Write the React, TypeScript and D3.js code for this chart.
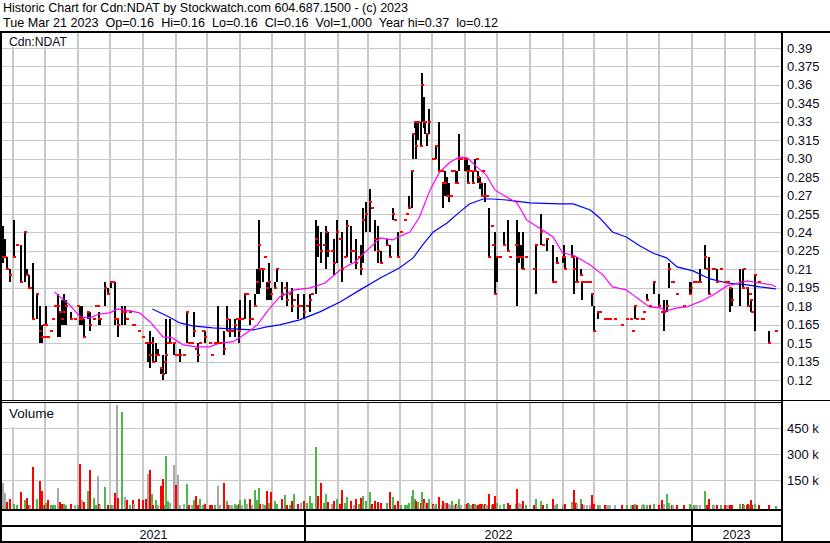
import React from 'react';
import * as d3 from 'd3';

const START = new Date(2021, 2, 22);
const TITLE = 'Historic Chart for Cdn:NDAT by Stockwatch.com 604.687.1500 - (c) 2023';
const SUBTITLE = 'Tue Mar 21 2023  Op=0.16  Hi=0.16  Lo=0.16  Cl=0.16  Vol=1,000  Year hi=0.37  lo=0.12';
const SYMBOL = 'Cdn:NDAT';
const VOLUME_TITLE = 'Volume';

const PRICE_TICKS = [0.39, 0.375, 0.36, 0.345, 0.33, 0.315, 0.30, 0.285, 0.27, 0.255, 0.24, 0.225, 0.21, 0.195, 0.18, 0.165, 0.15, 0.135, 0.12];
const PRICE_LABELS = ['0.39', '0.375', '0.36', '0.345', '0.33', '0.315', '0.30', '0.285', '0.27', '0.255', '0.24', '0.225', '0.21', '0.195', '0.18', '0.165', '0.15', '0.135', '0.12'];
const VOL_TICKS = [450000, 300000, 150000];
const VOL_LABELS = ['450 k', '300 k', '150 k'];
const YEARS = [2021, 2022, 2023];

// day offsets from START
const DAY = [
  0, 2, 4, 7, 11, 13, 17, 21, 23, 25,
  26, 28, 32, 35, 37, 39, 40, 41, 43, 45,
  47, 49, 52, 54, 56, 58, 60, 64, 68, 71,
  73, 75, 77, 80, 82, 86, 88, 90, 91, 92,
  96, 99, 102, 104, 106, 108, 109, 112, 115, 117,
  120, 123, 124, 128, 132, 135, 137, 139, 141, 142,
  144, 146, 149, 151, 153, 154, 156, 158, 161, 163,
  165, 167, 171, 174, 176, 178, 180, 182, 184, 186,
  189, 191, 195, 197, 200, 203, 205, 209, 211, 212,
  214, 216, 219, 221, 223, 224, 226, 228, 230, 233,
  235, 238, 240, 242, 243, 245, 247, 249, 251, 253, 257, 259,
  263, 266, 268, 271, 273, 275, 278, 281, 284, 287, 290, 292,
  295, 297, 300, 303, 305, 307, 310, 312, 315, 318, 320, 323,
  325, 328, 331, 333, 336, 338, 340, 343, 346, 348, 351, 354,
  357, 362, 365, 368, 370, 373, 376, 379, 381, 383, 386, 387,
  389, 390, 392, 394, 395, 397, 398, 400, 402, 406, 407, 409,
  411, 414, 415, 417, 419, 421, 423, 424, 426, 427, 428, 430,
  432, 436, 438, 439, 440, 442, 443, 445, 447, 448, 450, 452,
  453, 455, 456, 457, 459, 461, 462, 464, 466, 469, 473, 476,
  478, 484, 485, 487, 489, 490, 491, 493, 501, 503, 508, 509,
  513, 519, 521, 523, 528, 529, 530, 537, 538, 539, 541, 542,
  545, 546, 548, 551, 554, 556, 558, 561, 563, 568, 570, 572,
  573, 577, 584, 589, 592, 594, 596, 598, 603, 604, 605, 608,
  610, 614, 619, 622, 624, 626, 628, 631, 632, 636, 642, 648,
  649, 652, 654, 655, 658, 662, 664, 666, 670, 671, 674, 677,
  681, 683, 684, 686, 688, 695, 698, 699, 702, 703, 705, 706, 707, 709, 713, 723, 729,
];
const HIGH = [
  .245, .235, .22, .21, .25, .23, .23, .24, .21, .205,
  .195, .215, .19, .18, .165, .165, .155, .18, .155, .16,
  .17, .18, .19, .175, .185, .19, .185, .175, .17, .18,
  .18, .18, .17, .175, .175, .17, .18, .18, .175, .17,
  .2, .195, .2, .2, .2, .17, .17, .18, .18, .17,
  .175, .165, .165, .16, .155, .15, .15, .16, .15, .155,
  .15, .145, .13, .14, .135, .17, .15, .17, .15, .14,
  .14, .145, .14, .175, .15, .15, .175, .145, .15, .15,
  .16, .16, .15, .14, .15, .18, .15, .16, .18, .16,
  .17, .16, .17, .17, .17, .185, .17, .19, .19, .185,
  .17, .19, .21, .25, .21, .21, .22, .2, .215, .195, .2, .21,
  .2, .195, .2, .19, .195, .185, .19, .18, .19, .18, .19, .19,
  .25, .245, .24, .23, .245, .24, .225, .235, .25, .235, .24, .22,
  .25, .245, .225, .235, .22, .23, .26, .265, .275, .26, .25, .245,
  .225, .235, .23, .26, .25, .24, .24, .25, .255, .27, .29, .32,
  .33, .33, .33, .33, .37, .35, .33, .32, .34, .3, .3, .31,
  .33, .29, .28, .29, .285, .28, .27, .29, .29, .29, .29, .32,
  .3, .3, .3, .29, .295, .29, .29, .3, .3, .29, .285, .28,
  .29, .28, .27, .27, .26, .245, .23, .24, .22, .22, .24, .25,
  .22, .23, .25, .24, .23, .23, .24, .22, .21, .23, .255, .23,
  .235, .23, .2, .22, .22, .23, .22, .23, .22, .22, .2, .22,
  .21, .2, .2, .2, .2, .19, .18, .175, .175, .17, .17, .17,
  .17, .17, .165, .17, .17, .16, .18, .17, .17, .17, .175, .19,
  .18, .2, .19, .175, .185, .185, .215, .2, .2, .19, .18, .2,
  .2, .2, .2, .2, .21, .23, .21, .22, .21, .21, .21, .21,
  .2, .2, .2, .195, .195, .21, .21, .21, .195, .195, .19, .185, .175, .205, .2, .16, .16,
];
const LOW = [
  .215, .22, .21, .20, .22, .23, .20, .20, .205, .195,
  .195, .17, .17, .15, .15, .165, .155, .165, .155, .16,
  .17, .18, .155, .155, .165, .165, .165, .17, .17, .18,
  .165, .165, .155, .17, .16, .17, .18, .18, .165, .165,
  .18, .19, .195, .2, .165, .17, .155, .165, .165, .17,
  .175, .165, .165, .16, .155, .15, .135, .13, .15, .135,
  .135, .14, .125, .12, .135, .125, .15, .15, .14, .14,
  .14, .135, .14, .15, .15, .15, .155, .145, .135, .15,
  .16, .15, .15, .14, .15, .15, .15, .14, .16, .16,
  .155, .16, .155, .17, .15, .16, .17, .17, .19, .165,
  .17, .18, .19, .19, .195, .2, .22, .185, .185, .185, .195, .2,
  .185, .195, .18, .19, .175, .185, .17, .18, .17, .18, .175, .19,
  .19, .22, .215, .23, .21, .22, .225, .205, .215, .235, .2, .22,
  .22, .215, .225, .21, .22, .205, .215, .24, .24, .26, .225, .215,
  .215, .23, .22, .25, .25, .22, .24, .25, .255, .26, .26, .3,
  .325, .3, .315, .31, .33, .325, .32, .31, .32, .3, .3, .3,
  .29, .29, .26, .27, .27, .265, .27, .29, .29, .28, .28, .29,
  .3, .29, .29, .28, .29, .29, .28, .29, .3, .28, .275, .27,
  .29, .265, .27, .27, .22, .245, .23, .19, .2, .22, .23, .225,
  .22, .23, .18, .215, .22, .21, .21, .22, .21, .19, .23, .23,
  .225, .2, .2, .215, .215, .22, .21, .22, .22, .19, .2, .2,
  .205, .185, .2, .2, .2, .18, .16, .17, .175, .17, .17, .17,
  .17, .17, .165, .17, .17, .16, .17, .17, .17, .17, .175, .185,
  .18, .19, .18, .175, .16, .175, .195, .2, .2, .19, .18, .19,
  .19, .2, .2, .2, .2, .21, .21, .19, .21, .21, .2, .21,
  .2, .2, .2, .175, .18, .18, .195, .21, .195, .18, .19, .175, .175, .16, .2, .15, .16,
];
const CLOSE = [
  .22, .22, .21, .205, .22, .23, .20, .24, .205, .195,
  .195, .17, .19, .16, .155, .165, .155, .165, .155, .16,
  .17, .18, .18, .175, .17, .175, .18, .17, .17, .18,
  .17, .17, .155, .175, .165, .17, .18, .18, .17, .17,
  .195, .19, .2, .2, .17, .17, .165, .175, .175, .17,
  .175, .165, .165, .16, .155, .15, .15, .14, .15, .135,
  .14, .14, .13, .125, .135, .14, .15, .15, .15, .14,
  .14, .14, .14, .175, .15, .15, .16, .145, .14, .15,
  .16, .155, .15, .14, .15, .15, .15, .145, .17, .16,
  .16, .16, .165, .17, .16, .17, .17, .19, .19, .17,
  .17, .18, .2, .23, .21, .21, .22, .195, .2, .19, .195, .21,
  .19, .195, .185, .19, .18, .185, .18, .18, .175, .18, .185, .19,
  .235, .23, .225, .23, .24, .225, .225, .215, .24, .235, .21, .22,
  .245, .225, .225, .215, .22, .21, .25, .255, .265, .26, .235, .225,
  .215, .23, .22, .255, .25, .22, .24, .25, .255, .26, .29, .32,
  .33, .31, .33, .31, .36, .33, .33, .32, .33, .3, .3, .31,
  .29, .29, .28, .28, .27, .27, .27, .29, .29, .28, .28, .3,
  .3, .3, .29, .28, .29, .29, .28, .29, .3, .285, .28, .27,
  .29, .27, .27, .27, .22, .245, .23, .19, .22, .22, .23, .225,
  .22, .23, .22, .22, .22, .22, .21, .22, .21, .23, .24, .23,
  .235, .2, .2, .215, .22, .22, .21, .22, .22, .21, .2, .2,
  .205, .2, .2, .2, .2, .19, .16, .175, .175, .17, .17, .17,
  .17, .17, .165, .17, .17, .16, .18, .17, .17, .17, .175, .185,
  .18, .2, .18, .175, .175, .18, .21, .2, .2, .19, .18, .19,
  .195, .2, .2, .2, .2, .22, .21, .19, .21, .21, .2, .21,
  .2, .2, .2, .195, .185, .2, .195, .21, .195, .18, .19, .185, .175, .205, .2, .15, .16,
];
// volume in thousands of shares
const VOLUME_K = [
  133, 75, 23, 40, 12, 5, 80, 35, 46, 5,
  3, 225, 40, 144, 87, 3, 3, 15, 35, 3,
  5, 5, 104, 23, 10, 12, 5, 12, 3, 3,
  242, 35, 23, 87, 208, 46, 5, 173, 10, 8,
  110, 5, 5, 3, 75, 583, 46, 543, 52, 35,
  5, 35, 10, 40, 35, 40, 185, 208, 69, 5,
  35, 5, 115, 156, 5, 288, 29, 17, 237, 121,
  179, 5, 10, 127, 5, 5, 35, 58, 5, 40,
  5, 10, 5, 3, 5, 115, 5, 133, 29, 5,
  5, 5, 10, 5, 10, 35, 5, 40, 10, 40,
  5, 92, 35, 104, 10, 10, 5, 87, 15, 80, 30, 10,
  40, 63, 5, 5, 30, 69, 10, 20, 30, 15, 60, 20,
  340, 60, 130, 20, 70, 25, 10, 30, 40, 10, 90, 15,
  50, 30, 5, 40, 10, 45, 60, 30, 80, 10, 30, 25,
  20, 15, 80, 50, 5, 30, 5, 5, 5, 20, 60, 90,
  40, 30, 25, 20, 80, 40, 20, 15, 40, 10, 5, 10,
  50, 5, 30, 20, 15, 10, 5, 30, 5, 10, 5, 40,
  5, 10, 10, 15, 10, 5, 10, 10, 5, 5, 10, 10,
  5, 10, 5, 5, 70, 5, 10, 60, 20, 5, 10, 20,
  5, 10, 100, 20, 10, 10, 30, 5, 5, 40, 30, 5,
  10, 40, 5, 10, 5, 10, 10, 23, 5, 92, 17, 10,
  40, 10, 3, 3, 3, 63, 10, 5, 3, 5, 3, 3,
  3, 5, 3, 3, 3, 5, 10, 3, 3, 10, 3, 5,
  3, 10, 5, 35, 10, 69, 20, 3, 3, 3, 3, 10,
  5, 3, 3, 3, 5, 87, 3, 40, 3, 3, 5, 3,
  5, 3, 3, 5, 3, 10, 10, 3, 3, 10, 3, 35, 3, 10, 3, 5, 1,
];

const MA_SHORT_DAY = [49, 54, 63, 73, 82, 91, 101, 108, 120, 129, 139, 151, 160, 170, 183, 195, 205, 217, 230, 240, 249, 261, 275, 290, 304, 318, 332, 346, 356, 368, 373, 384, 393, 403, 412, 422, 431, 438, 447, 456, 464, 475, 485, 494, 506, 519, 528, 538, 554, 566, 575, 588, 598, 610, 620, 626, 636, 645, 657, 670, 683, 695, 702, 714, 726, 729];
const MA_SHORT = [.1916, .1876, .1811, .1713, .1705, .1737, .1746, .1778, .1762, .1746, .1672, .155, .1542, .1485, .1469, .1469, .1502, .151, .1583, .1648, .1754, .1876, .1933, .1949, .1989, .2095, .216, .2274, .2355, .2339, .2363, .2404, .2526, .2746, .2892, .2973, .3014, .3006, .2933, .2867, .2746, .2689, .264, .2502, .2437, .2363, .2233, .2217, .2136, .2055, .1957, .1933, .1868, .1794, .1786, .1762, .1786, .1794, .1835, .1892, .1965, .1989, .2006, .1989, .1973, .1957];
const MA_LONG_DAY = [141, 155, 167, 179, 198, 217, 236, 249, 261, 280, 299, 318, 337, 356, 374, 387, 396, 406, 419, 431, 440, 453, 462, 475, 497, 525, 538, 554, 563, 575, 588, 601, 613, 626, 636, 651, 667, 683, 702, 714, 729];
const MA_LONG = [.1778, .1721, .1664, .164, .1624, .1616, .1607, .1632, .1648, .1689, .1754, .1835, .1933, .203, .2111, .2193, .2298, .2404, .2477, .2567, .2632, .2672, .2672, .2664, .264, .2632, .2632, .2583, .2518, .2404, .2363, .229, .2233, .2193, .212, .2087, .2022, .1989, .1973, .1957, .1941];

const FONT = 'Liberation Sans, Arial, sans-serif';
const GRID = '#c8c8c8';
const TEXT = '#0a0a20';

export default function App() {
  const dateOf = (d: number) => d3.timeDay.offset(START, d);
  const x = d3.scaleTime().domain([new Date(2022, 0, 1), new Date(2023, 0, 1)]).range([305, 692]);
  const yP = d3.scaleLinear().domain([0.12, 0.39]).range([380, 48]);
  const yV = d3.scaleLinear().domain([0, 450000]).range([506, 428]);

  const L = 2, R = 781;
  const months = d3.timeMonth.range(new Date(2021, 3, 1), new Date(2023, 3, 1)).filter(m => x(m) < R - 2);
  const yearStarts = [new Date(2022, 0, 1), new Date(2023, 0, 1)];
  const yearBounds = [L, x(yearStarts[0]), x(yearStarts[1]), R];

  const bars = DAY.map((d, i) => ({
    x: Math.round(x(dateOf(d))),
    hi: HIGH[i], lo: LOW[i], cl: CLOSE[i], vol: VOLUME_K[i] * 1000,
    prev: i > 0 ? CLOSE[i - 1] : CLOSE[i],
  }));

  const lineGen = d3.line<[number, number]>().x(p => x(dateOf(p[0]))).y(p => yP(p[1]));
  const shortPts: [number, number][] = MA_SHORT_DAY.map((d, i) => [d, MA_SHORT[i]]);
  const longPts: [number, number][] = MA_LONG_DAY.map((d, i) => [d, MA_LONG[i]]);

  return (
    <svg width={830} height={543} style={{ position: 'absolute', left: 0, top: 0, background: '#fff' }} fontFamily={FONT}>
      <rect x={0} y={0} width={830} height={543} fill="#fff" />
      {/* header */}
      <text x={3} y={12} fontSize={13} fill="#000" textLength={405} lengthAdjust="spacingAndGlyphs" style={{ whiteSpace: 'pre' }}>{TITLE}</text>
      <text x={3} y={27} fontSize={13} fill="#000" textLength={495} lengthAdjust="spacingAndGlyphs" style={{ whiteSpace: 'pre' }}>{SUBTITLE}</text>

      {/* price grid */}
      <g shapeRendering="crispEdges">
        {PRICE_TICKS.map((t, i) => (
          <line key={'h' + i} x1={L} x2={R} y1={Math.round(yP(t)) + 0.5} y2={Math.round(yP(t)) + 0.5} stroke={GRID} strokeWidth={1} />
        ))}
        {months.map((m, i) => (
          <rect key={'v' + i} x={Math.round(x(m)) - 1} y={33} width={2} height={367} fill={GRID} />
        ))}
        {/* volume grid */}
        {VOL_TICKS.map((t, i) => (
          <line key={'vh' + i} x1={L} x2={R} y1={Math.round(yV(t)) + 0.5} y2={Math.round(yV(t)) + 0.5} stroke={GRID} strokeWidth={1} />
        ))}
        {months.map((m, i) => (
          <rect key={'vv' + i} x={Math.round(x(m)) - 1} y={403} width={2} height={106} fill={GRID} />
        ))}
      </g>

      {/* panel labels */}
      <rect x={3} y={33} width={70} height={14} fill="#fff" />
      <text x={9} y={46} fontSize={13} fill={TEXT} textLength={58} lengthAdjust="spacingAndGlyphs">{SYMBOL}</text>
      <rect x={3} y={403} width={38} height={24} fill="#fff" />
      <text x={9} y={418} fontSize={13} fill={TEXT} textLength={45} lengthAdjust="spacingAndGlyphs">{VOLUME_TITLE}</text>

      {/* price bars */}
      <g shapeRendering="crispEdges">
        {bars.filter(b => b.hi > b.lo).map((b, i) => {
          const top = Math.round(yP(b.hi));
          const bot = Math.round(yP(b.lo));
          return <rect key={'b' + i} x={b.x - 1} y={top} width={2} height={Math.max(1, bot - top)} fill="#000" />;
        })}
      </g>
      {/* moving averages */}
      <path d={lineGen(longPts) || ''} fill="none" stroke="#0000ff" strokeWidth={1.2} />
      <path d={lineGen(shortPts) || ''} fill="none" stroke="#ff00ff" strokeWidth={1.2} />
      {/* closes */}
      <g shapeRendering="crispEdges">
        {bars.map((b, i) => (
          <rect key={'c' + i} x={b.x - 1} y={Math.round(yP(b.cl)) - 1} width={3} height={2} fill="#ff0000" />
        ))}
      </g>

      {/* volume bars */}
      <g shapeRendering="crispEdges">
        {bars.map((b, i) => {
          const top = Math.round(yV(b.vol));
          const color = b.cl > b.prev ? '#4cb84c' : b.cl < b.prev ? '#ff0000' : '#a8a8a8';
          return <rect key={'vb' + i} x={b.x - 1} y={top} width={2} height={509 - top} fill={color} />;
        })}
      </g>

      {/* frame */}
      <g shapeRendering="crispEdges" fill="#000">
        <rect x={0} y={31} width={830} height={2} />
        <rect x={0} y={31} width={2} height={512} />
        <rect x={R} y={31} width={2} height={512} />
        <rect x={0} y={400} width={830} height={1} />
        <rect x={0} y={402} width={R} height={1} />
        <rect x={0} y={509} width={R + 2} height={2} />
        <rect x={0} y={525} width={R + 2} height={2} />
        <rect x={0} y={541} width={830} height={2} />
        {yearStarts.map((ys, i) => (
          <rect key={'ys' + i} x={Math.round(x(ys)) - 1} y={509} width={2} height={33} />
        ))}
      </g>

      {/* price axis labels */}
      {PRICE_TICKS.map((t, i) => (
        <text key={'pl' + i} x={787} y={yP(t) + 4.5} fontSize={13} fill={TEXT}>{PRICE_LABELS[i]}</text>
      ))}
      {VOL_TICKS.map((t, i) => (
        <text key={'vl' + i} x={787} y={yV(t) + 4.5} fontSize={13} fill={TEXT}>{VOL_LABELS[i]}</text>
      ))}
      {/* years */}
      {YEARS.map((yr, i) => (
        <text key={'yr' + i} x={(yearBounds[i] + yearBounds[i + 1]) / 2} y={539} fontSize={12.5} textAnchor="middle" fill={TEXT}>{yr}</text>
      ))}
    </svg>
  );
}
